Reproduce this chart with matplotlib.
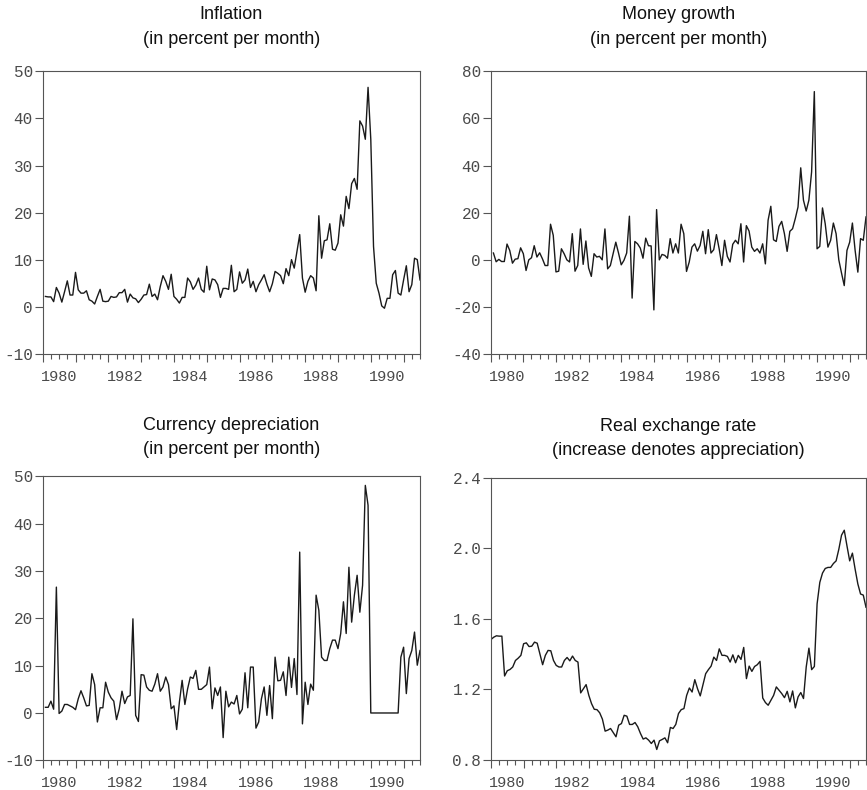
import numpy as np
import matplotlib.pyplot as plt
from matplotlib.ticker import MultipleLocator, FuncFormatter, FormatStrFormatter, NullFormatter

plt.rcParams['axes.unicode_minus'] = False

# monthly observations, Jan 1980 - Jul 1991
months = 1980 + np.arange(139) / 12.0

inflation = [np.nan,
             2.3, 2.2, 2.2, 1.2, 4.2, 3.0, 1.1, 3.3, 5.6, 2.6, 2.6, 7.4,
             3.7, 3.0, 3.0, 3.5, 1.6, 1.3, 0.7, 2.3, 3.8, 1.3,
             1.2, 1.3, 2.3, 2.1, 2.2, 3.1, 3.1, 3.8, 1.1, 2.8,
             2.0, 1.8, 1.0, 1.7, 2.6, 2.7, 4.9, 2.3, 2.8, 1.6,
             4.4, 6.7, 5.5, 3.8, 7.0, 2.3, 1.7, 0.9, 2.1, 2.1,
             6.2, 5.4, 3.8, 4.7, 6.2, 3.8, 3.2,
             8.7, 3.7, 6.0, 5.8, 4.8, 2.1, 4.0, 4.0, 3.8, 8.9,
             3.3, 3.8, 7.5, 5.1, 5.8, 8.1, 4.2, 5.5, 3.3, 4.8,
             5.8, 6.9, 4.9, 3.3, 5.0, 7.6, 7.2, 6.7, 5.0, 8.2,
             6.7, 10.1, 8.3, 11.8, 15.4, 6.2, 3.2, 5.5, 6.7, 6.2,
             3.5, 19.4, 10.4, 14.1, 14.3, 17.7, 12.3, 12.1, 13.6, 19.6,
             17.2, 23.5, 20.9, 26.2, 27.3, 25.0, 39.5, 38.4, 35.6, 46.6,
             35.6, 12.9, 5.1, 3.0, 0.3, -0.2, 1.9, 1.9, 6.9, 7.8,
             3.0, 2.6, 5.8, 8.8, 3.3, 4.8, 10.4, 10.1, 5.8]

money_growth = [np.nan,
                3.0, -0.7, 0.3, -0.6, -0.6, 6.8, 4.1, -1.3, 0.4, 0.6,
                5.2, 2.7, -4.4, 0.1, 1.0, 6.1, 1.3, 3.1, 0.6, -2.3,
                -2.3, 15.2, 10.5, -5.0, -4.7, 4.8, 2.7, 0.1, -0.8, 11.2,
                -4.7, -2.3, 13.2, -1.8, 8.1, -3.3, -6.9, 2.7, 1.3, 1.6,
                0.1, 13.2, -3.7, -2.3, 2.7, 7.6, 3.0, -2.0, -0.1, 3.0,
                18.6, -16.1, 7.9, 6.9, 5.1, 0.8, 9.3, 6.1, 6.0, -21.1,
                21.4, 0.1, 2.4, 2.0, 0.8, 9.1, 3.0, 6.9, 3.0, 15.2,
                11.2, -4.8, -0.8, 5.5, 6.9, 3.8, 6.2, 12.2, 2.7, 12.9,
                3.0, 4.4, 10.8, 4.8, -2.3, 8.4, 1.6, -0.8, 6.7, 8.4,
                6.9, 15.4, -0.8, 14.6, 12.3, 5.5, 3.7, 4.8, 3.0, 6.9,
                -1.6, 16.9, 22.8, 8.6, 7.9, 14.3, 16.4, 11.2, 3.7, 12.2,
                13.3, 17.6, 22.5, 39.1, 25.4, 20.8, 25.4, 37.4, 71.4,
                4.8, 5.8, 22.1, 15.4, 5.5, 8.4, 15.7, 11.2, 0.1, -5.5,
                -10.8, 4.1, 7.6, 15.7, 4.1, -5.1, 9.1, 8.4, 18.3]

depreciation = [np.nan,
                1.2, 1.2, 2.5, 0.8, 26.6, -0.1, 0.4, 1.8, 1.8, 1.5,
                1.2, 0.7, 3.0, 4.7, 3.2, 1.5, 1.6, 8.3, 6.0, -1.9,
                1.1, 1.1, 6.5, 4.4, 3.2, 2.5, -1.4, 0.9, 4.6, 2.0,
                3.4, 3.7, 19.9, -0.5, -1.8, 8.1, 8.0, 5.5, 4.8, 4.6,
                6.1, 8.3, 4.6, 5.5, 7.6, 6.0, 0.9, 1.5, -3.5, 2.3,
                6.9, 1.8, 5.1, 7.6, 7.3, 9.0, 5.0, 5.0, 5.5, 6.0,
                9.7, 0.9, 5.3, 3.7, 5.5,
                -5.2, 4.6, 1.3, 2.3, 1.9, 3.7, -0.2, 0.8, 8.5, 1.1,
                9.7, 9.7, -3.2, -1.9, 3.0, 5.5, -0.5, 5.8, -1.2, 11.8,
                6.8, 6.9, 8.7, 3.7, 11.8, 5.4, 11.5, 3.9, 34.0, -2.3,
                6.5, 1.8, 6.1, 4.8, 24.9, 21.7, 11.8, 11.1, 11.1, 13.6,
                15.4, 15.4, 13.6, 16.8, 23.5, 16.8, 30.8, 19.2, 24.9, 29.1,
                21.3, 27.0, 48.1, 43.9,
                0, 0, 0, 0, 0, 0, 0, 0, 0, 0, 0,
                11.8, 13.9, 4.1, 11.5, 13.2, 17.1, 10.1, 13.2]

real_rate = [1.482, 1.495, 1.503, 1.501, 1.501, 1.275, 1.305, 1.312, 1.326, 1.363,
             1.376, 1.392, 1.458, 1.463, 1.442, 1.444, 1.467, 1.461, 1.401, 1.339,
             1.392, 1.420, 1.418, 1.363, 1.335, 1.326, 1.326, 1.363, 1.380, 1.361,
             1.388, 1.363, 1.354, 1.179, 1.203, 1.226, 1.165, 1.118, 1.086, 1.084,
             1.066, 1.030, 0.962, 0.968, 0.977, 0.954, 0.930, 0.996, 1.005, 1.052,
             1.047, 1.000, 1.000, 1.011, 0.987, 0.949, 0.917, 0.924, 0.911, 0.892,
             0.911, 0.858,
             0.907, 0.915, 0.924, 0.896, 0.983, 0.977, 1.000, 1.062,
             1.084, 1.090, 1.165, 1.207, 1.184, 1.254, 1.203, 1.162, 1.226, 1.288,
             1.311, 1.331, 1.382, 1.363, 1.429, 1.392, 1.392, 1.386, 1.354, 1.395,
             1.350, 1.392, 1.369, 1.437, 1.260, 1.331, 1.301, 1.329, 1.339, 1.358,
             1.150, 1.124, 1.109, 1.137, 1.165, 1.213, 1.194, 1.175, 1.152, 1.188,
             1.128, 1.190, 1.094, 1.156, 1.181, 1.147, 1.326, 1.433, 1.311, 1.329,
             1.684, 1.806, 1.859, 1.885, 1.891, 1.891, 1.913, 1.928, 1.994, 2.074,
             2.102, 2.013, 1.928, 1.972, 1.881, 1.797, 1.740, 1.734, 1.665]

titles = ["Inflation\n(in percent per month)",
          "Money growth\n(in percent per month)",
          "Currency depreciation\n(in percent per month)",
          "Real exchange rate\n(increase denotes appreciation)"]
year_labels = [1980, 1982, 1984, 1986, 1988, 1990]

W, H = 867, 790


def box(left, top, right, bottom):
    return [left / W, 1 - bottom / H, (right - left) / W, (bottom - top) / H]


def year_label(v, pos):
    # label the mid-year quarter tick of every other year
    y = int(round(v - 0.5))
    if abs(v - (y + 0.5)) < 1e-6 and y in year_labels:
        return str(y)
    return ''


fig = plt.figure(figsize=(W / 100, H / 100), dpi=100)

panels = [
    (box(42.7, 71.3, 420, 354.5), inflation, (-10, 50), np.arange(-10, 51, 10), '%d', 20),
    (box(490.7, 71.3, 866, 354.5), money_growth, (-40, 80), np.arange(-40, 81, 20), '%d', 20),
    (box(42.7, 476.4, 420, 760.3), depreciation, (-10, 50), np.arange(-10, 51, 10), '%d', 16),
    (box(491, 477.7, 866, 759.7), real_rate, (0.8, 2.4), np.arange(0.8, 2.41, 0.4), '%.1f', 16),
]

grey = '#555555'
for (rect, values, ylim, yticks, fmt, tpad), title in zip(panels, titles):
    ax = fig.add_axes(rect)
    ax.plot(months, values, color='#1a1a1a', lw=1.0)

    ax.set_xlim(1980, 1991.5)
    ax.set_ylim(*ylim)
    ax.set_yticks(yticks)
    ax.yaxis.set_major_formatter(FormatStrFormatter(fmt))

    # long ticks at each January, short quarterly ticks, labels mid-year
    ax.xaxis.set_major_locator(MultipleLocator(1))
    ax.xaxis.set_major_formatter(NullFormatter())
    ax.xaxis.set_minor_locator(MultipleLocator(0.25))
    ax.xaxis.set_minor_formatter(FuncFormatter(year_label))

    for s in ax.spines.values():
        s.set_color(grey)
        s.set_linewidth(0.8)
    ax.tick_params(axis='y', direction='out', length=6, width=0.8, pad=1,
                   color=grey, labelcolor='#4a4a4a', labelsize=11.5)
    ax.tick_params(axis='x', which='major', direction='out', length=5.5, width=0.8,
                   color=grey)
    ax.tick_params(axis='x', which='minor', direction='out', length=3.5, width=0.8,
                   pad=8, color=grey, labelcolor='#4a4a4a', labelsize=11)
    for lab in ax.get_xticklabels(minor=True) + ax.get_yticklabels():
        lab.set_family('Liberation Mono')

    ax.set_title(title, fontsize=13, family='Liberation Sans', color='#111111',
                 pad=tpad, linespacing=1.55)

fig.savefig('out.png', dpi=100)
